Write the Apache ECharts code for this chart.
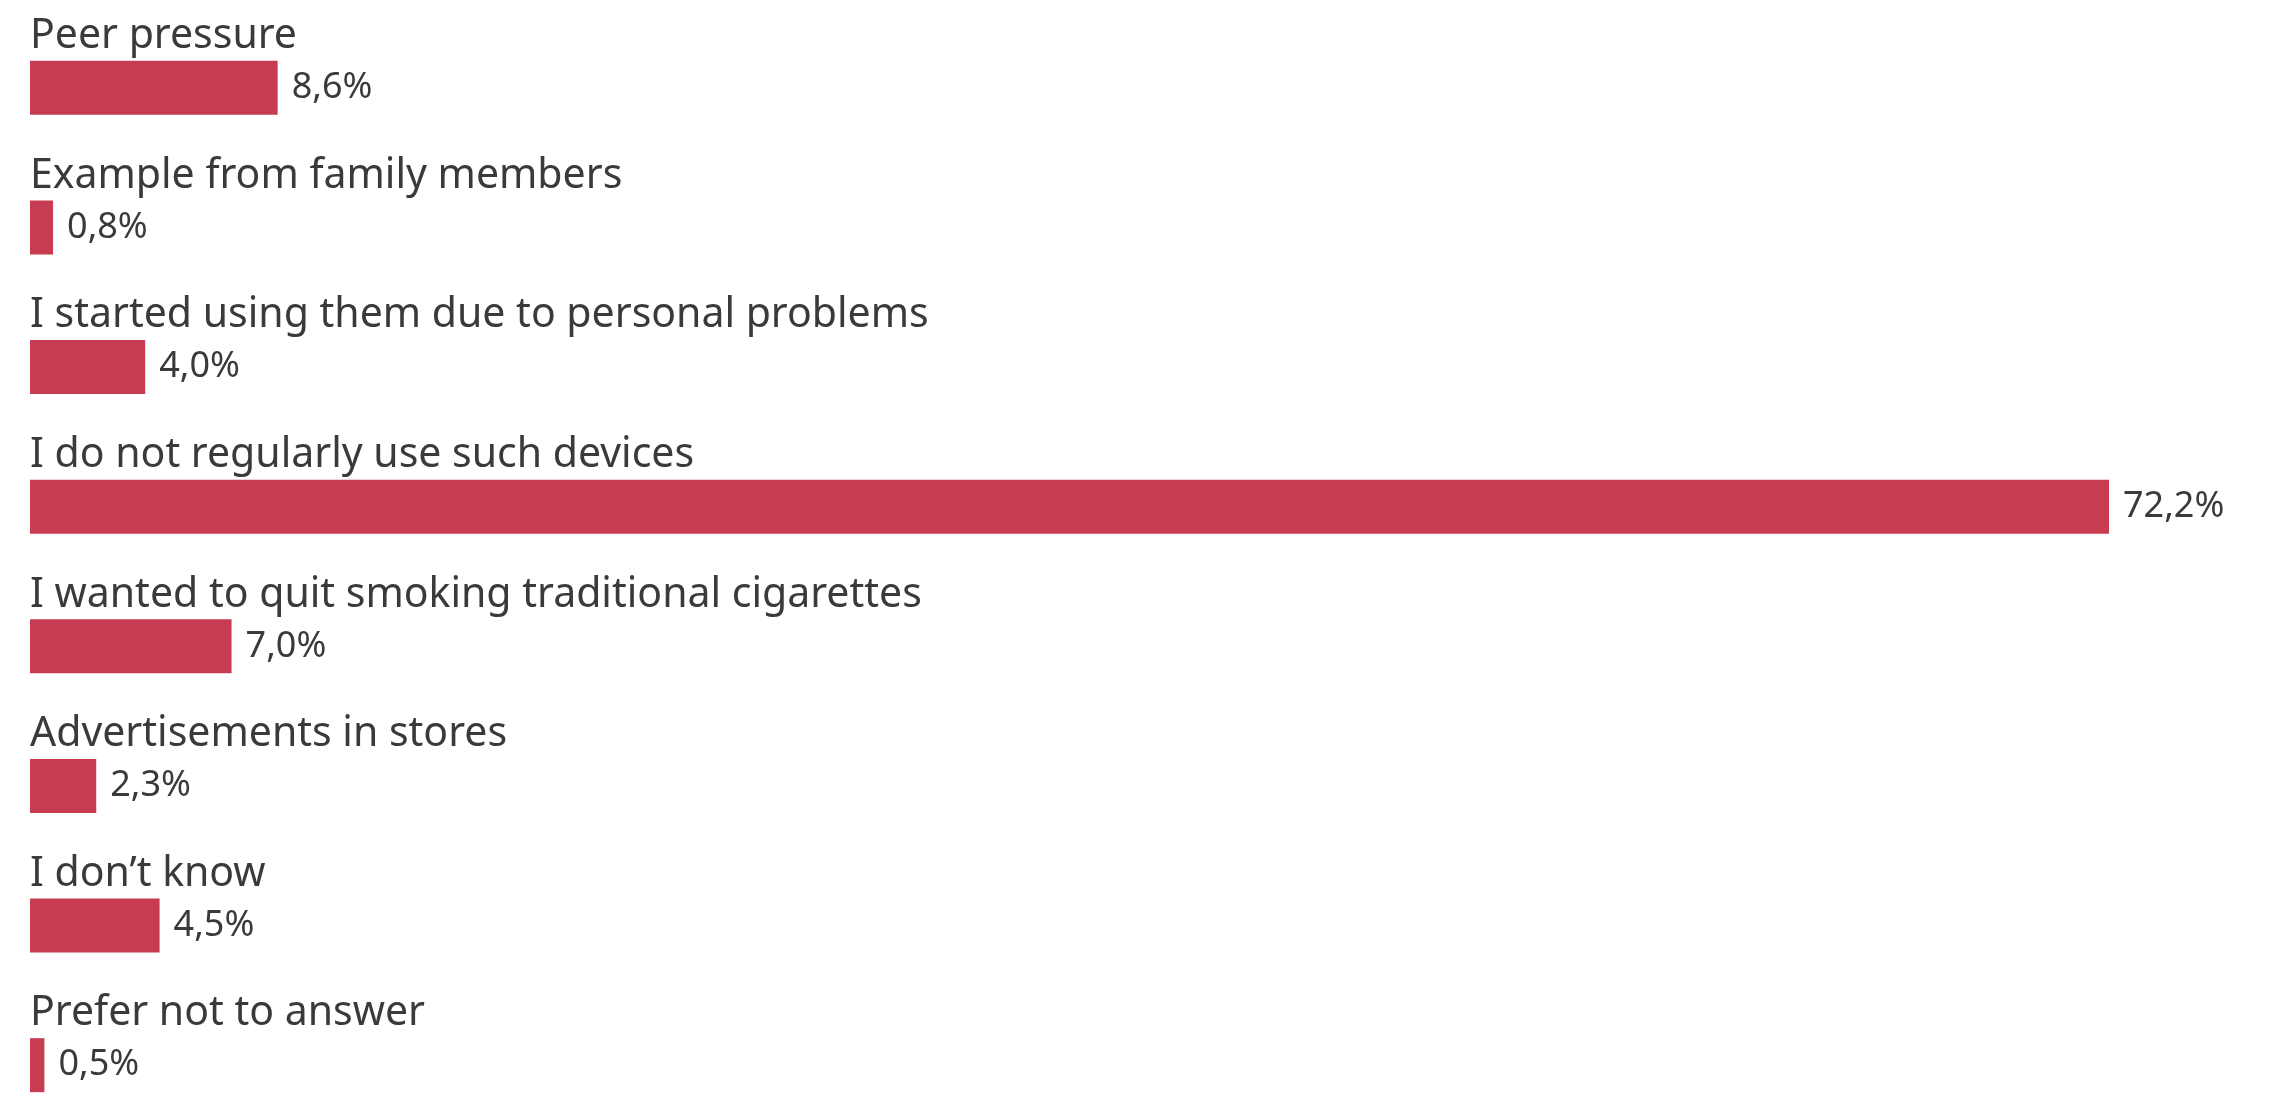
<!DOCTYPE html>
<html>
<head>
<meta charset="utf-8">
<title>Reasons for using devices</title>
<script src="https://cdn.jsdelivr.net/npm/echarts@6/dist/echarts.min.js"></script>
<style>
  html, body { margin: 0; padding: 0; background: #ffffff; overflow: hidden; }
  /* the last row runs past the bottom edge of the page */
  #chart { width: 2289px; height: 1160px; }
</style>
</head>
<body>
<div id="chart"></div>
<script>
// Answer options, top to bottom
const categories = [
  'Peer pressure',
  'Example from family members',
  'I started using them due to personal problems',
  'I do not regularly use such devices',
  'I wanted to quit smoking traditional cigarettes',
  'Advertisements in stores',
  'I don\u2019t know',
  'Prefer not to answer'
];

// Share of respondents, %
const shares = [8.6, 0.8, 4.0, 72.2, 7.0, 2.3, 4.5, 0.5];

const BAR_COLOR = '#c73c50';
const TEXT_COLOR = '#3a3a3a';
const FONT = '"Noto Sans", "DejaVu Sans", sans-serif';

const chart = echarts.init(document.getElementById('chart'), null, { renderer: 'canvas' });

chart.setOption({
  backgroundColor: '#ffffff',
  animation: false,
  grid: { left: 30, top: 18, width: 2079, height: 1117, containLabel: false },
  xAxis: {
    type: 'value',
    min: 0,
    max: 'dataMax',
    show: false
  },
  yAxis: {
    type: 'category',
    data: categories,
    inverse: true,
    axisLine: { show: false },
    axisTick: { show: false },
    splitLine: { show: false },
    axisLabel: {
      inside: true,
      margin: 0,
      align: 'left',
      verticalAlign: 'bottom',
      padding: [0, 0, 31, 0],
      color: TEXT_COLOR,
      fontFamily: FONT,
      fontSize: 41
    }
  },
  series: [{
    type: 'bar',
    data: shares,
    barWidth: 54,
    itemStyle: { color: BAR_COLOR },
    label: {
      show: true,
      position: 'right',
      distance: 14,
      color: TEXT_COLOR,
      fontFamily: FONT,
      fontSize: 36,
      formatter: p => p.value.toFixed(1).replace('.', ',') + '%'
    }
  }]
});
</script>
</body>
</html>
